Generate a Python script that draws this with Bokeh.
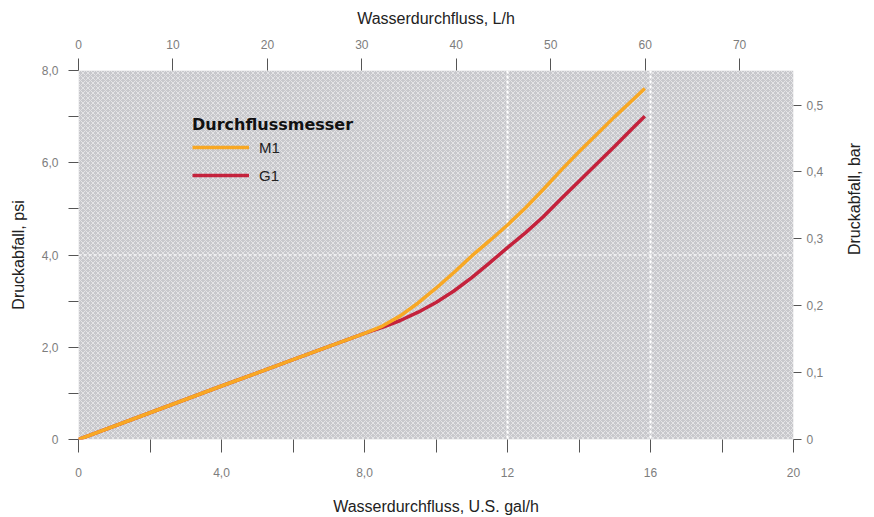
import math
from bokeh.plotting import figure
from bokeh.models import (Range1d, LinearAxis, FixedTicker, BoxAnnotation, Span,
                          Legend, LegendItem)
from bokeh.embed import file_html
from bokeh.resources import INLINE

# ---- data (flow in U.S. gal/h, pressure drop in psi) ----
m1_flow = [0, 2, 4, 6, 8, 8.5, 9, 9.5, 10, 10.5, 11, 11.5, 12, 12.5, 13, 13.5, 14, 14.5, 15, 15.5, 15.84]
m1_psi = [0, 0.58, 1.16, 1.73, 2.30, 2.46, 2.68, 2.96, 3.28, 3.62, 3.98, 4.31, 4.65, 5.02, 5.42, 5.84, 6.24, 6.62, 7.0, 7.36, 7.61]
g1_flow = [0, 2, 4, 6, 8, 8.5, 9, 9.5, 10, 10.5, 11, 11.5, 12, 12.5, 13, 13.5, 14, 14.5, 15, 15.5, 15.84]
g1_psi = [0, 0.58, 1.16, 1.73, 2.30, 2.43, 2.58, 2.76, 2.97, 3.22, 3.51, 3.83, 4.16, 4.48, 4.83, 5.22, 5.60, 5.98, 6.36, 6.75, 7.01]

gal_ticks = [0, 2, 4, 6, 8, 10, 12, 14, 16, 18, 20]
gal_labels = {0: "0", 4: "4,0", 8: "8,0", 12: "12", 16: "16", 20: "20"}
psi_ticks = [0, 1, 2, 3, 4, 5, 6, 7, 8]
psi_labels = {0: "0", 2: "2,0", 4: "4,0", 6: "6,0", 8: "8,0"}
lh_ticks = [0, 10, 20, 30, 40, 50, 60, 70]
bar_ticks = [0, 0.1, 0.2, 0.3, 0.4, 0.5]
bar_labels = ["0", "0,1", "0,2", "0,3", "0,4", "0,5"]
grid_x = [12, 16]
grid_y = [4]

L_PER_GAL = 3.785411784
PSI_PER_BAR = 14.5037738

FONT = "Liberation Sans"
TICK_COLOR = "#7d7d7d"

p = figure(width=874, height=517, output_backend="svg", toolbar_location=None,
           x_range=Range1d(0, 20), y_range=Range1d(0, 8),
           x_axis_location=None, y_axis_location=None,
           min_border_left=78, min_border_right=79, min_border_top=70, min_border_bottom=75)
p.outline_line_color = None
p.xgrid.visible = False
p.ygrid.visible = False
p.background_fill_color = "white"
p.border_fill_color = "white"

p.extra_x_ranges = {"lh": Range1d(0, 20 * L_PER_GAL)}
p.extra_y_ranges = {"bar": Range1d(0, 8 / PSI_PER_BAR)}

# patterned background
p.add_layout(BoxAnnotation(fill_color="#c8c8cc", fill_alpha=1.0, line_color=None,
                           hatch_pattern="x", hatch_color="white", hatch_alpha=0.5,
                           hatch_scale=5, hatch_weight=1, level="underlay"))
for gx in grid_x:
    p.add_layout(Span(location=gx, dimension="height", line_color="white",
                      line_width=2, line_dash="3 2", level="underlay"))
for gy in grid_y:
    p.add_layout(Span(location=gy, dimension="width", line_color="white",
                      line_width=1.5, line_alpha=0.8, line_dash="3 2", level="underlay"))


def style(ax, tin, tout, standoff, lab_standoff):
    ax.axis_line_color = None
    ax.major_tick_line_color = "#555555"
    ax.major_tick_in = tin
    ax.major_tick_out = tout
    ax.minor_tick_line_color = None
    ax.major_label_text_font = FONT
    ax.major_label_text_font_size = "12px"
    ax.major_label_text_color = TICK_COLOR
    ax.major_label_standoff = standoff
    ax.axis_label_text_font = FONT
    ax.axis_label_text_font_size = "16px"
    ax.axis_label_text_font_style = "normal"
    ax.axis_label_text_color = "#222222"
    ax.axis_label_standoff = lab_standoff


bottom = LinearAxis(axis_label="Wasserdurchfluss, U.S. gal/h",
                    ticker=FixedTicker(ticks=gal_ticks, minor_ticks=[]))
bottom.major_label_overrides = {t: gal_labels.get(t, "") for t in gal_ticks}
style(bottom, 0, 13, 15, 18)
p.add_layout(bottom, "below")

left = LinearAxis(axis_label="Druckabfall, psi",
                  ticker=FixedTicker(ticks=psi_ticks, minor_ticks=[]))
left.major_label_overrides = {t: psi_labels.get(t, "") for t in psi_ticks}
style(left, 0, 10, 10, 12)
p.add_layout(left, "left")

top = LinearAxis(axis_label="Wasserdurchfluss, L/h", x_range_name="lh",
                 ticker=FixedTicker(ticks=lh_ticks, minor_ticks=[]))
top.major_label_overrides = {t: str(t) for t in lh_ticks}
style(top, 0, 12, 10, 10)
p.add_layout(top, "above")

right = LinearAxis(axis_label="Druckabfall, bar", y_range_name="bar",
                   ticker=FixedTicker(ticks=bar_ticks, minor_ticks=[]))
right.major_label_overrides = {t: l for t, l in zip(bar_ticks, bar_labels)}
style(right, 0, 8, 5, 28)
right.axis_label_orientation = math.pi / 2
p.add_layout(right, "right")

g1 = p.line(g1_flow, g1_psi, line_color="#c4223c", line_width=3.5)
m1 = p.line(m1_flow, m1_psi, line_color="#f8a824", line_width=3.5)

legend = Legend(items=[LegendItem(label="M1", renderers=[m1]),
                       LegendItem(label="G1", renderers=[g1])],
                location=(114, 254), title="Durchflussmesser",
                background_fill_alpha=0, border_line_color=None,
                padding=0, margin=0, spacing=8,
                glyph_width=57, glyph_height=20, label_height=20,
                label_standoff=10, title_standoff=3)
legend.title_text_font = "DejaVu Sans"
legend.title_text_font_style = "bold"
legend.title_text_font_size = "16px"
legend.title_text_color = "#111111"
legend.label_text_font = FONT
legend.label_text_font_size = "15px"
legend.label_text_color = "#222222"
p.add_layout(legend, "center")

open("out.html", "w").write(file_html(p, INLINE))
